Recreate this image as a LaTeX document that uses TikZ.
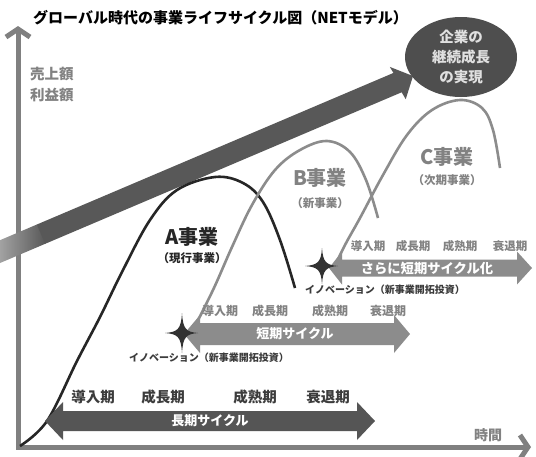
\documentclass[tikz,border=0pt]{standalone}
\usepackage{fontspec}
\setmainfont{Noto Sans CJK JP}
\usetikzlibrary{shapes.geometric,arrows.meta}
\definecolor{axisc}{RGB}{128,128,128}
\definecolor{bandc}{RGB}{88,88,88}
\definecolor{longc}{RGB}{85,85,85}
\definecolor{shortc}{RGB}{140,140,140}
\definecolor{curvec}{RGB}{140,140,140}
\definecolor{lblgray}{RGB}{130,130,130}
\definecolor{darklbl}{RGB}{60,60,60}
\definecolor{starc}{RGB}{50,50,50}
\definecolor{ellc}{RGB}{78,78,78}
\tikzset{
  lbl/.style={font=\bfseries\fontsize{#1}{#1}\selectfont, inner sep=0pt},
  axisline/.style={draw=axisc, line width=5pt, -{Straight Barb[length=8pt,width=24pt]}},
  curveA/.style={draw=black!85, line width=2.6pt},
  curveG/.style={draw=curvec, line width=2.6pt},
}
\begin{document}
\begin{tikzpicture}[x=1pt,y=-1pt]
\useasboundingbox (0,0) rectangle (536,456);
\clip (0,0) rectangle (536,456);
\fill[white] (0,0) rectangle (536,456);

% axes
\coordinate (O) at (18,447);
\coordinate (ytop) at (18,26);
\coordinate (xend) at (531,447);
\draw[axisline] (18,449) -- (ytop);
\draw[axisline] (16,447) -- (xend);

% big growth arrow
\begin{scope}[shift={(0,251.6)}, rotate=23.03]
  \shade[left color=bandc!25, right color=bandc] (-30,-10.5) rectangle (45,10.5);
  \fill[bandc] (44.5,-10.5) -- (432,-10.5) -- (431,-17.5) -- (448.8,0) -- (433,18.5) -- (432,10.5) -- (44.5,10.5) -- cycle;
  \coordinate (tip) at (448.8,0);
\end{scope}

% curves
\draw[curveA] plot[smooth, tension=0.6] coordinates {(20,446) (47,421) (77,361) (100,317) (123,270) (150,220) (177,190) (215,177) (243,183) (263,202) (280,240) (295,288)};
\draw[curveG] plot[smooth, tension=0.6] coordinates {(190,336) (213,290) (232,247) (252,205) (275,170) (300,150) (327,141) (350,152) (366,180) (378,218)};
\draw[curveG] plot[smooth, tension=0.6] coordinates {(333,270) (345,245) (360,218) (383,175) (407,135) (432,110) (460,100) (482,108) (493,130) (500,168)};

% long cycle arrow
\fill[longc] (45,421) -- (63,402) -- (63,411) -- (357,411) -- (357,402) -- (375,421) -- (357,440) -- (357,431) -- (63,431) -- (63,440) -- cycle;
% short cycle arrow
\fill[shortc] (184,334) -- (200,315) -- (200,323) -- (394,323) -- (394,315) -- (410,334) -- (394,353) -- (394,345) -- (200,345) -- (200,353) -- cycle;
% shorter cycle arrow
\fill[shortc] (329,268) -- (342,251.5) -- (342,259.5) -- (517,259.5) -- (517,251.5) -- (532,268) -- (517,284.5) -- (517,276.5) -- (342,276.5) -- (342,284.5) -- cycle;

% stars
\foreach \cx/\cy/\a/\b in {182/333/20/16, 322/266/18/16}{
  \fill[starc!60, opacity=0.5] (\cx,\cy) circle (5);
  \fill[starc] (\cx,\cy-\a) .. controls (\cx+1,\cy-4) and (\cx+4,\cy-1) .. (\cx+\b,\cy)
    .. controls (\cx+4,\cy+1) and (\cx+1,\cy+4) .. (\cx,\cy+\a)
    .. controls (\cx-1,\cy+4) and (\cx-4,\cy+1) .. (\cx-\b-1,\cy)
    .. controls (\cx-4,\cy-1) and (\cx-1,\cy-4) .. (\cx,\cy-\a) -- cycle;
}

% texts
\node[lbl=15, anchor=west] (title) at (33,18) {グローバル時代の事業ライフサイクル図（NETモデル）};
\node[lbl=14.5, text=lblgray] (yl1) at (52,74) {売上額};
\node[lbl=14.5, text=lblgray] (yl2) at (52,95) {利益額};
\node[lbl=14, text=lblgray] (xl) at (488,435) {時間};

\node[lbl=20, text=black!85] (aname) at (192,237) {A事業};
\node[lbl=11.5, text=black!85] (asub) at (192,258) {（現行事業）};
\node[lbl=20, text=lblgray] (bname) at (320,178) {B事業};
\node[lbl=11.5, text=lblgray] (bsub) at (320,203) {（新事業）};
\node[lbl=20, text=lblgray] (cname) at (447,157) {C事業};
\node[lbl=11.5, text=lblgray] (csub) at (447,180) {（次期事業）};

\node[lbl=13, text=white] (longt) at (210,421) {長期サイクル};
\foreach \x/\t [count=\i] in {93/導入期, 163/成長期, 255/成熟期, 328/衰退期}
  \node[lbl=14.5, text=darklbl] (lp\i) at (\x,397) {\t};

\node[lbl=13, text=white] (shortt) at (295,334) {短期サイクル};
\foreach \x/\t [count=\i] in {220/導入期, 270/成長期, 330/成熟期, 388/衰退期}
  \node[lbl=12, text=lblgray] (sp\i) at (\x,311) {\t};

\node[lbl=13.3, text=white] (shortert) at (427,268) {さらに短期サイクル化};
\foreach \x/\t [count=\i] in {368/導入期, 413/成長期, 460/成熟期, 510/衰退期}
  \node[lbl=11.5, text=lblgray] (tp\i) at (\x,246) {\t};

\node[lbl=10, text=darklbl] (inno1) at (209,358) {イノベーション（新事業開拓投資）};
\node[lbl=10, text=darklbl] (inno2) at (385,290) {イノベーション（新事業開拓投資）};

% goal ellipse
\node[ellipse, fill=ellc, minimum width=112pt, minimum height=80pt, inner sep=0pt,
      text=white!88!black, align=center, font=\bfseries\fontsize{14.5}{20}\selectfont] (goal) at (461,57)
      {企業の\\継続成長\\の実現};
\end{tikzpicture}
\end{document}
